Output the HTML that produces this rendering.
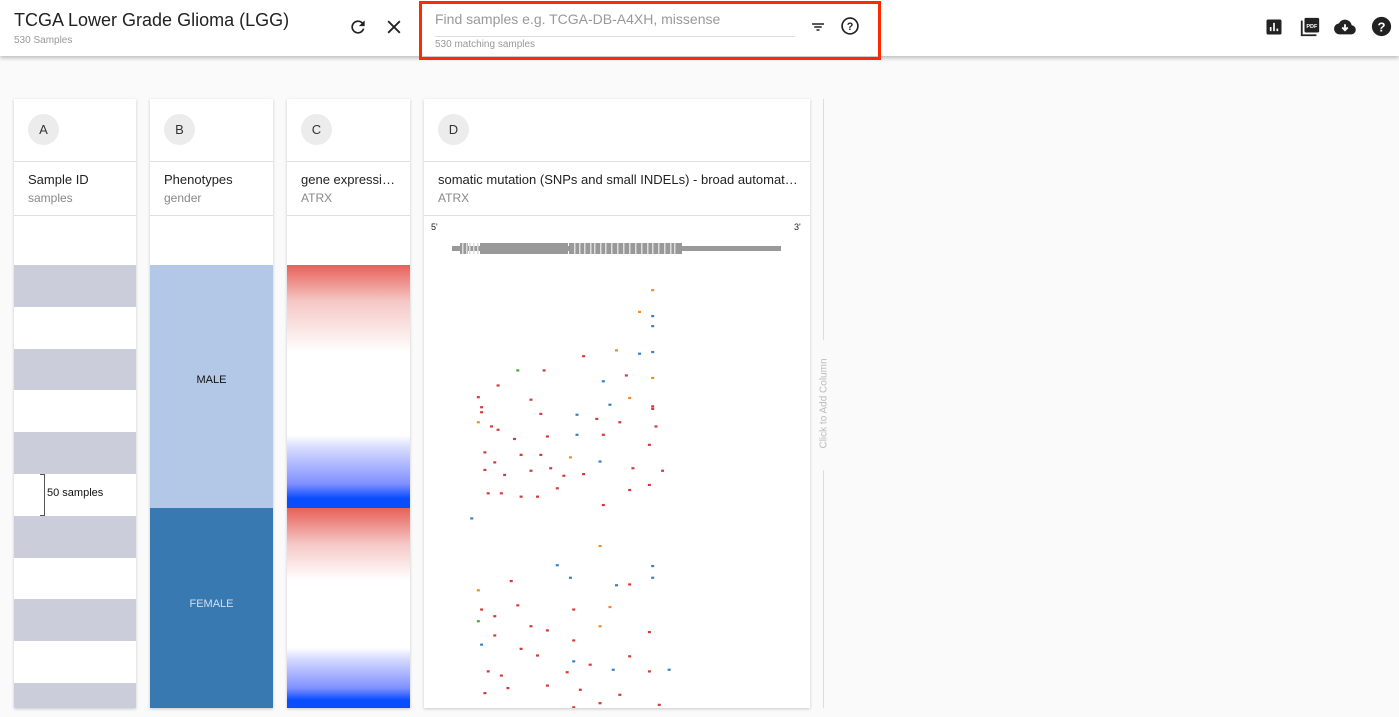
<!DOCTYPE html>
<html><head><meta charset="utf-8"><style>
body{margin:0;width:1399px;height:717px;overflow:hidden;background:#fafafa;font-family:"Liberation Sans",sans-serif;position:relative}
.abs{position:absolute}
.hdr{left:0;top:0;width:1399px;height:56px;background:#fff;box-shadow:0 2px 4px rgba(0,0,0,.25)}
.card{background:#fff;box-shadow:0 1px 3px rgba(0,0,0,.2);top:99px;height:609px;overflow:hidden}
.badge{left:14px;top:15px;width:31px;height:31px;border-radius:50%;background:#ececec;font-size:13px;line-height:31px;text-align:center;color:#333}
.hl{left:0;right:0;height:1px;background:#e0e0e0}
.t1{left:14px;top:73px;font-size:13px;color:#222;white-space:nowrap}
.t2{left:14px;top:92px;font-size:12px;color:#888}
</style></head><body>
<div class="abs hdr">
 <div class="abs" style="left:14px;top:10px;font-size:18px;color:#222">TCGA Lower Grade Glioma (LGG)</div>
 <div class="abs" style="left:14px;top:35px;font-size:10px;color:#999">530 Samples</div>
 <svg class="abs" style="left:348px;top:17px" width="20" height="20" viewBox="0 0 24 24"><path d="M17.65 6.35A8 8 0 1 0 19.73 14h-2.08A6 6 0 1 1 12 6c1.66 0 3.14.69 4.22 1.78L13 11h7V4z" fill="#222"/></svg>
 <svg class="abs" style="left:384px;top:17px" width="20" height="20" viewBox="0 0 24 24"><path d="M5 5L19 19M19 5L5 19" stroke="#222" stroke-width="2.2"/></svg>
 <div class="abs" style="left:435px;top:11px;font-size:14px;color:#999">Find samples e.g. TCGA-DB-A4XH, missense</div>
 <div class="abs" style="left:435px;top:36px;width:360px;height:1px;background:#ddd"></div>
 <div class="abs" style="left:435px;top:39px;font-size:10px;color:#999">530 matching samples</div>
 <svg class="abs" style="left:809px;top:18px" width="18" height="18" viewBox="0 0 24 24"><path d="M4 8h16M7 12h10M10 16h4" stroke="#222" stroke-width="2"/></svg>
 <svg class="abs" style="left:840px;top:16px" width="20" height="20" viewBox="0 0 24 24"><circle cx="12" cy="12" r="9.5" fill="none" stroke="#222" stroke-width="2"/><text x="12" y="17" text-anchor="middle" font-size="13" font-weight="bold" font-family="Liberation Sans" fill="#222">?</text></svg>
 <svg class="abs" style="left:1264px;top:17px" width="20" height="20" viewBox="0 0 24 24"><rect x="3" y="3" width="18" height="18" rx="2" fill="#222"/><path d="M8 17v-5M12 17V7M16 17v-3" stroke="#fff" stroke-width="2"/></svg>
 <svg class="abs" style="left:1299px;top:16px" width="22" height="22" viewBox="0 0 24 24"><rect x="6" y="2" width="16" height="16" rx="1.5" fill="#222"/><path d="M3 5v16h16" stroke="#222" stroke-width="2" fill="none"/><text x="14" y="13" text-anchor="middle" font-size="6" font-weight="bold" font-family="Liberation Sans" fill="#fff">PDF</text></svg>
 <svg class="abs" style="left:1333px;top:16px" width="24" height="22" viewBox="0 0 24 24"><path d="M19.35 10.04A7.49 7.49 0 0 0 5.35 8.04 6 6 0 0 0 6 20h13a5 5 0 0 0 .35-9.96z" fill="#222"/><path d="M12 9v6M9 12.5l3 3 3-3" stroke="#fff" stroke-width="2" fill="none"/></svg>
 <svg class="abs" style="left:1371px;top:16px" width="21" height="21" viewBox="0 0 24 24"><circle cx="12" cy="12" r="11" fill="#222"/><text x="12" y="17.5" text-anchor="middle" font-size="15" font-weight="bold" font-family="Liberation Sans" fill="#fff">?</text></svg>
</div>
<div class="abs" style="left:419px;top:1px;width:456px;height:53px;border:3px solid #ff2a00"></div>

<div class="abs card" style="left:14px;width:122px">
 <div class="abs badge">A</div>
 <div class="abs hl" style="top:62px"></div>
 <div class="abs t1">Sample ID</div><div class="abs t2">samples</div>
 <div class="abs hl" style="top:116px"></div>
 <div id="stripes"></div>
 <div class="abs" style="left:26px;top:375px;width:4px;height:40px;border:1px solid #555;border-left:none"></div>
 <div class="abs" style="left:33px;top:388px;font-size:11px;color:#111">50 samples</div>
</div>

<div class="abs card" style="left:150px;width:123px">
 <div class="abs badge">B</div>
 <div class="abs hl" style="top:62px"></div>
 <div class="abs t1">Phenotypes</div><div class="abs t2">gender</div>
 <div class="abs hl" style="top:116px"></div>
 <div class="abs" style="left:0;top:166px;width:123px;height:243px;background:#b3c8e6"></div>
 <div class="abs" style="left:0;top:275px;width:123px;text-align:center;font-size:11px;color:#111">MALE</div>
 <div class="abs" style="left:0;top:409px;width:123px;height:200px;background:#3779b0"></div>
 <div class="abs" style="left:0;top:499px;width:123px;text-align:center;font-size:11px;color:#d0e0f0">FEMALE</div>
</div>

<div class="abs card" style="left:287px;width:123px">
 <div class="abs badge">C</div>
 <div class="abs hl" style="top:62px"></div>
 <div class="abs t1">gene expressi…</div><div class="abs t2">ATRX</div>
 <div class="abs hl" style="top:116px"></div>
 <div class="abs" style="left:0;top:166px;width:123px;height:243px;background:linear-gradient(#e8605a 0%,#f5c8c6 15%,#fff 36%,#fff 70%,#d8dcff 75%,#8090ff 90%,#0a4dff 96%,#0a4dff 100%)"></div>
 <div class="abs" style="left:0;top:409px;width:123px;height:200px;background:linear-gradient(#e8605a 0%,#f5c8c6 18%,#fff 36%,#fff 70%,#d8dcff 75%,#8090ff 90%,#0a4dff 96%,#0a4dff 100%)"></div>
</div>

<div class="abs card" style="left:424px;width:386px">
 <div class="abs badge">D</div>
 <div class="abs hl" style="top:62px"></div>
 <div class="abs t1">somatic mutation (SNPs and small INDELs) - broad automat…</div><div class="abs t2">ATRX</div>
 <div class="abs hl" style="top:116px"></div>
 <div class="abs" style="left:7px;top:123px;font-size:9px;color:#222">5'</div>
 <div class="abs" style="left:370px;top:123px;font-size:9px;color:#222">3'</div>
 <svg id="mut" class="abs" style="left:0;top:0" width="386" height="609"></svg>
</div>

<div class="abs" style="left:823px;top:99px;width:1px;height:609px;background:#ddd"></div>
<div class="abs" style="left:823px;top:340px;width:1px;height:130px;background:#fafafa"></div>
<div class="abs" style="left:760px;top:398px;width:128px;text-align:center;font-size:10px;color:#bbb;transform:rotate(-90deg)">Click to Add Column</div>

<script>
// stripes in column A
var st=document.getElementById('stripes');
for(var i=0;i<11;i++){var d=document.createElement('div');d.className='abs';
d.style.cssText='left:0;width:122px;top:'+(166+i*41.8)+'px;height:41.8px;background:'+(i%2==0?'#cbcddb':'#fff');


st.appendChild(d);}

var mutPos=[61,57,61,61,50,40,57,61,20,28,53,46,61,14,8,9,24,48,54,61,38,9,8,12,27,44,51,61,62,14,19,29,38,46,60,10,13,21,27,36,45,55,10,16,24,30,34,40,64,11,15,21,26,32,46,60,6,54,
45,32,61,36,50,54,61,18,8,20,37,48,9,13,8,24,29,45,60,13,37,9,21,26,37,42,54,11,15,35,49,60,66,17,29,39,51,63,10,37,45];
var mutSample=[30,56,61,73,102,109,106,104,126,126,132,139,135,144,158,170,161,167,159,169,179,176,188,193,178,184,188,172,193,197,208,205,203,203,215,224,236,227,227,230,235,243,245,251,246,243,252,250,246,273,273,277,277,267,287,263,303,269,
336,359,360,374,383,382,374,378,389,407,412,409,412,420,426,432,437,432,439,443,449,454,459,467,474,478,468,486,491,487,484,486,484,506,503,508,514,526,512,529,524];
var mutType=['o','o','b','b','o','r','b','b','g','r','r','b','o','r','r','r','r','b','o','r','b','r','o','r','r','r','r','r','r','r','r','r','b','r','r','r','r','r','r','o','b','r','r','r','r','r','r','r','r','r','r','r','r','r','r','r','b','r',
'o','b','b','b','b','r','b','r','o','r','r','o','r','r','g','r','r','o','r','r','r','b','r','r','b','r','r','r','r','r','b','r','b','r','r','r','r','r','r','r','r'];
var colors={r:'#d33a3a',o:'#f08a2c',b:'#3a7fc4',g:'#45a845'};
var NS='http://www.w3.org/2000/svg',svg=document.getElementById('mut');
function xScale(p){return 28+p*3.29;}
function yScale(s){return 166+s*0.836;}
// gene track
var bar=document.createElementNS(NS,'rect');
bar.setAttribute('x',28);bar.setAttribute('y',147);bar.setAttribute('width',329);bar.setAttribute('height',5);bar.setAttribute('fill','#999');


svg.appendChild(bar);
var exons=[[36,8],[56,88],[145,113]];
exons.forEach(function(e){var r=document.createElementNS(NS,'rect');r.setAttribute('x',e[0]);r.setAttribute('y',144);r.setAttribute('width',e[1]);r.setAttribute('height',11);r.setAttribute('fill','#999');


svg.appendChild(r);});
[38,42,45,49,53,150,155,160,166,170,176,181,187,193,199,205,211,217,223,228,234,240,246,250].forEach(function(x){var r=document.createElementNS(NS,'rect');r.setAttribute('x',x);r.setAttribute('y',144);r.setAttribute('width',1.5);r.setAttribute('height',11);r.setAttribute('fill','#ddd');svg.appendChild(r);});
for(var k=0;k<mutPos.length;k++){var r=document.createElementNS(NS,'rect');
r.setAttribute('x',xScale(mutPos[k])-1.5);r.setAttribute('y',yScale(mutSample[k])-1);r.setAttribute('width',3);r.setAttribute('height',2.2);r.setAttribute('fill',colors[mutType[k]]);


svg.appendChild(r);}
</script>
</body></html>
